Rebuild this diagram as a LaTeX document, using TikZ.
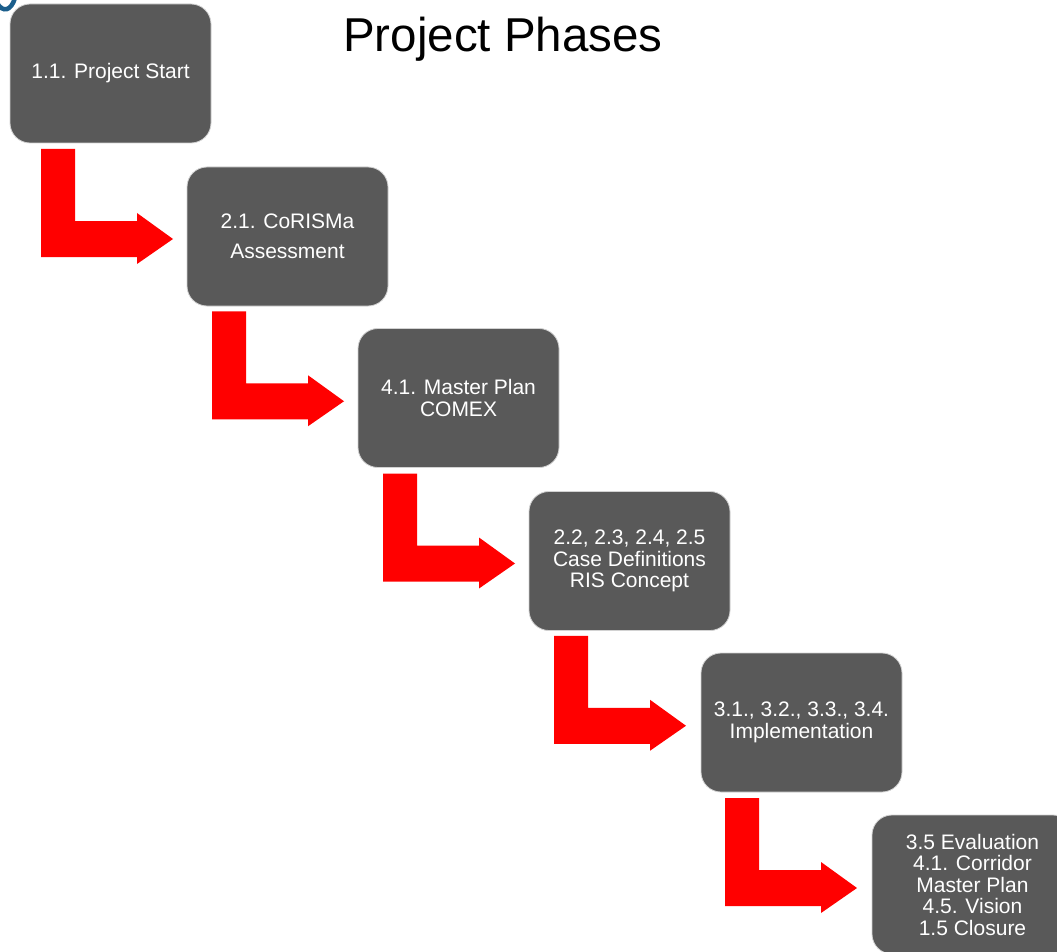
\documentclass[tikz,border=0pt]{standalone}
\usepackage{fontspec}
\setmainfont{Liberation Sans}
\definecolor{boxgray}{HTML}{595959}
\definecolor{logoblue}{HTML}{1B5E8C}
\definecolor{arrowred}{HTML}{FF0000}
\begin{document}
\begin{tikzpicture}[x=1pt,y=-1pt,
  phase/.style={rectangle, rounded corners=20pt, fill=boxgray, draw=gray!35, line width=0.8pt,
    minimum width=201pt, minimum height=139pt, text=white, align=center,
    font=\fontsize{21}{21.5}\selectfont, inner sep=2pt},
  larrow/.pic={\fill[arrowred] (0,0) -- (34,0) -- (34,72) -- (96,72) -- (96,64) -- (132,90)
     -- (96,115) -- (96,108) -- (0,108) -- cycle;}]
\useasboundingbox (0,0) rectangle (1057,952);
\clip (0,0) rectangle (1057,952);
\fill[white] (0,0) rectangle (1057,952);
% logo fragment
\draw[logoblue, line width=4.5pt] (-3,3) .. controls (3,13) and (11,11) .. (15,-2);
% title
\node[anchor=base west, inner sep=0pt, font=\fontsize{47.5}{50}\selectfont] (title) at (343,52) {Project Phases};
% phase boxes
\node[phase] (b1) at (110.5,73.5) {1.1. Project Start};
\node[phase, font=\fontsize{21}{30}\selectfont] (b2) at (287.5,236.5) {2.1. CoRISMa\\Assessment};
\node[phase] (b3) at (458.5,398) {4.1. Master Plan\\COMEX};
\node[phase] (b4) at (629.5,561) {2.2, 2.3, 2.4, 2.5\\Case Definitions\\RIS Concept};
\node[phase] (b5) at (801.5,722.5) {3.1., 3.2., 3.3., 3.4.\\Implementation};
\node[phase] (b6) at (972.5,884.5) {3.5 Evaluation\\4.1. Corridor\\Master Plan\\4.5. Vision\\1.5 Closure};
% L-shaped arrows
\foreach \k in {0,...,4}
  \pic at ({41+171*\k},{149+162.25*\k}) {larrow};
\end{tikzpicture}
\end{document}
